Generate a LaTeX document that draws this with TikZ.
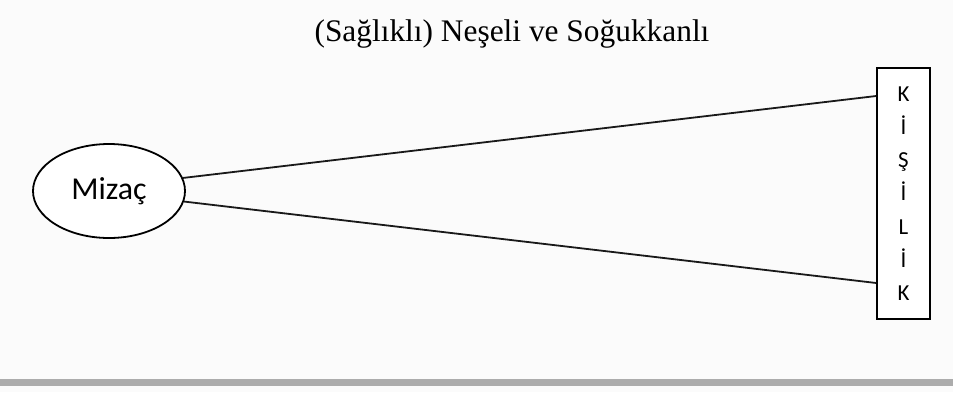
\documentclass[tikz,border=0pt]{standalone}
\usepackage{fontspec}
\setmainfont{Liberation Serif}
\newfontfamily\carlitofont{Carlito}
\usetikzlibrary{shapes.geometric,calc}
\begin{document}
\begin{tikzpicture}[x=1bp,y=-1bp,
  line/.style={line width=1.8bp,black!90},
  oval/.style={ellipse,draw,line width=1.8bp,minimum width=152bp,minimum height=94bp,inner sep=0pt,font=\carlitofont\fontsize{32}{34}\selectfont},
  tallbox/.style={rectangle,draw,line width=1.6bp,minimum width=53bp,minimum height=251bp,inner sep=0pt,align=center,font=\carlitofont\fontsize{23}{33.3}\selectfont},
  titletext/.style={font=\fontsize{31.5}{36}\selectfont}]
\fill[white!97!gray] (0,0) rectangle (953,392);
\useasboundingbox (0,0) rectangle (953,392);
\fill[gray!65] (0,379) rectangle (953,386);
\node[titletext] (t) at (512,34) {(Sağlıklı) Neşeli ve Soğukkanlı};
\node[oval,fill=white] (m) at (109,191) {Mizaç};
\node[tallbox,fill=white] (k) at (903.5,193.5) {K\\İ\\Ş\\İ\\L\\İ\\K};
\coordinate (kt) at ([yshift=97.5bp]k.west);
\coordinate (kb) at ([yshift=-89.5bp]k.west);
\draw[line] (m.10) -- (kt);
\draw[line] (m.-8) -- (kb);
\end{tikzpicture}
\end{document}
